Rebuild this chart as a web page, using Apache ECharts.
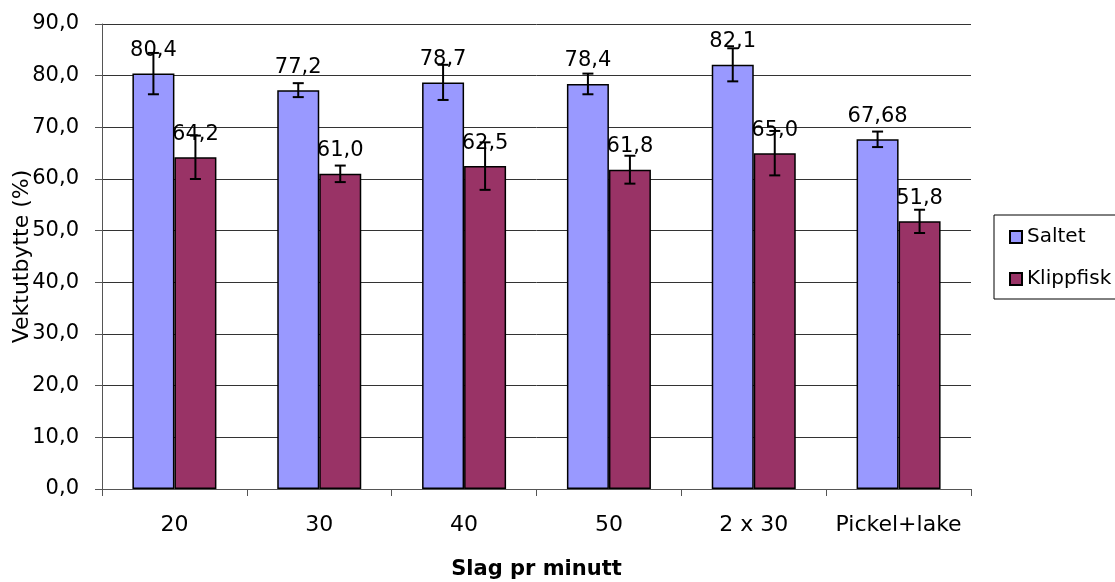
<!DOCTYPE html>
<html>
<head>
<meta charset="utf-8">
<script src="https://cdn.jsdelivr.net/npm/echarts@6/dist/echarts.min.js"></script>
<style>
html,body{margin:0;padding:0;background:#fff;}
#chart{width:1115px;height:582px;}
</style>
</head>
<body>
<div id="chart"></div>
<script>
const categories = ['20', '30', '40', '50', '2 x 30', 'Pickel+lake'];
const saltet = [80.4, 77.2, 78.7, 78.4, 82.1, 67.68];
const klippfisk = [64.2, 61.0, 62.5, 61.8, 65.0, 51.8];
const saltetErr = [4.0, 1.35, 3.4, 2.0, 3.2, 1.5];
const klippfiskErr = [4.2, 1.6, 4.6, 2.7, 4.3, 2.25];
const seriesNames = ['Saltet', 'Klippfisk'];
const yMin = 0, yMax = 90, yStep = 10;

const FONT = 'DejaVu Sans';

function fmtVal(v) {
  const t = v * 10;
  const s = Math.abs(t - Math.round(t)) < 1e-9 ? v.toFixed(1) : v.toFixed(2);
  return s.replace('.', ',');
}

function errSeries(vals, errs, off) {
  return {
    type: 'custom',
    z: 5,
    silent: true,
    data: vals.map((v, i) => [i, v, errs[i]]),
    encode: { x: 0, y: 1 },
    renderItem: function (params, api) {
      const i = api.value(0), v = api.value(1), e = api.value(2);
      const hi = api.coord([i, v + e]);
      const lo = api.coord([i, v - e]);
      const band = api.size([1, 0])[0];
      const x = hi[0] + off * band;
      const cap = 5.5;
      const st = { stroke: '#000', lineWidth: 2 };
      return {
        type: 'group',
        children: [
          { type: 'line', shape: { x1: x, y1: hi[1], x2: x, y2: lo[1] }, style: st },
          { type: 'line', shape: { x1: x - cap, y1: hi[1], x2: x + cap, y2: hi[1] }, style: st },
          { type: 'line', shape: { x1: x - cap, y1: lo[1], x2: x + cap, y2: lo[1] }, style: st }
        ]
      };
    }
  };
}

const labelStyle = {
  show: true,
  position: 'top',
  distance: 12,
  color: '#000',
  fontFamily: FONT,
  fontSize: 21,
  lineHeight: 22,
  formatter: p => fmtVal(p.value)
};

const chart = echarts.init(document.getElementById('chart'), null, { renderer: 'canvas' });
chart.setOption({
  animation: false,
  backgroundColor: '#fff',
  grid: { left: 102, right: 144, top: 24, bottom: 93, containLabel: false, outerBoundsMode: 'none' },
  legend: {
    orient: 'vertical',
    left: 994,
    top: 215,
    data: seriesNames,
    icon: 'rect',
    itemWidth: 12,
    itemHeight: 12,
    itemGap: 20,
    padding: [11, 60, 9, 15],
    borderColor: '#000',
    borderWidth: 1,
    textStyle: { fontFamily: FONT, fontSize: 20, color: '#000', lineHeight: 22 }
  },
  xAxis: {
    type: 'category',
    data: categories,
    name: 'Slag pr minutt',
    nameLocation: 'middle',
    nameGap: 70,
    nameTextStyle: { fontFamily: FONT, fontSize: 21, fontWeight: 'bold', color: '#000' },
    axisLine: { lineStyle: { color: '#555', width: 1 } },
    axisTick: { show: true, length: 7, lineStyle: { color: '#555' } },
    axisLabel: { margin: 25, fontFamily: FONT, fontSize: 22, color: '#000', interval: 0 }
  },
  yAxis: {
    type: 'value',
    min: yMin,
    max: yMax,
    interval: yStep,
    name: 'Vektutbytte (%)',
    nameLocation: 'middle',
    nameRotate: 90,
    nameGap: 69,
    nameMoveOverlap: false,
    nameTextStyle: { fontFamily: FONT, fontSize: 22, color: '#000' },
    axisLine: { show: true, lineStyle: { color: '#555', width: 1 } },
    axisTick: { show: true, length: 7, lineStyle: { color: '#555' } },
    axisLabel: { margin: 23, fontFamily: FONT, fontSize: 21, color: '#000', formatter: v => v.toFixed(1).replace('.', ',') },
    splitLine: { show: true, lineStyle: { color: '#333', width: 1 } }
  },
  series: [
    {
      name: seriesNames[0],
      type: 'bar',
      data: saltet,
      barWidth: '29%',
      barGap: '0%',
      itemStyle: { color: '#9999FF', borderColor: '#000', borderWidth: 1.5 },
      label: labelStyle
    },
    {
      name: seriesNames[1],
      type: 'bar',
      data: klippfisk,
      barWidth: '29%',
      barGap: '0%',
      itemStyle: { color: '#993366', borderColor: '#000', borderWidth: 1.5 },
      label: labelStyle
    },
    errSeries(saltet, saltetErr, -0.145),
    errSeries(klippfisk, klippfiskErr, 0.145)
  ]
});
</script>
</body>
</html>
